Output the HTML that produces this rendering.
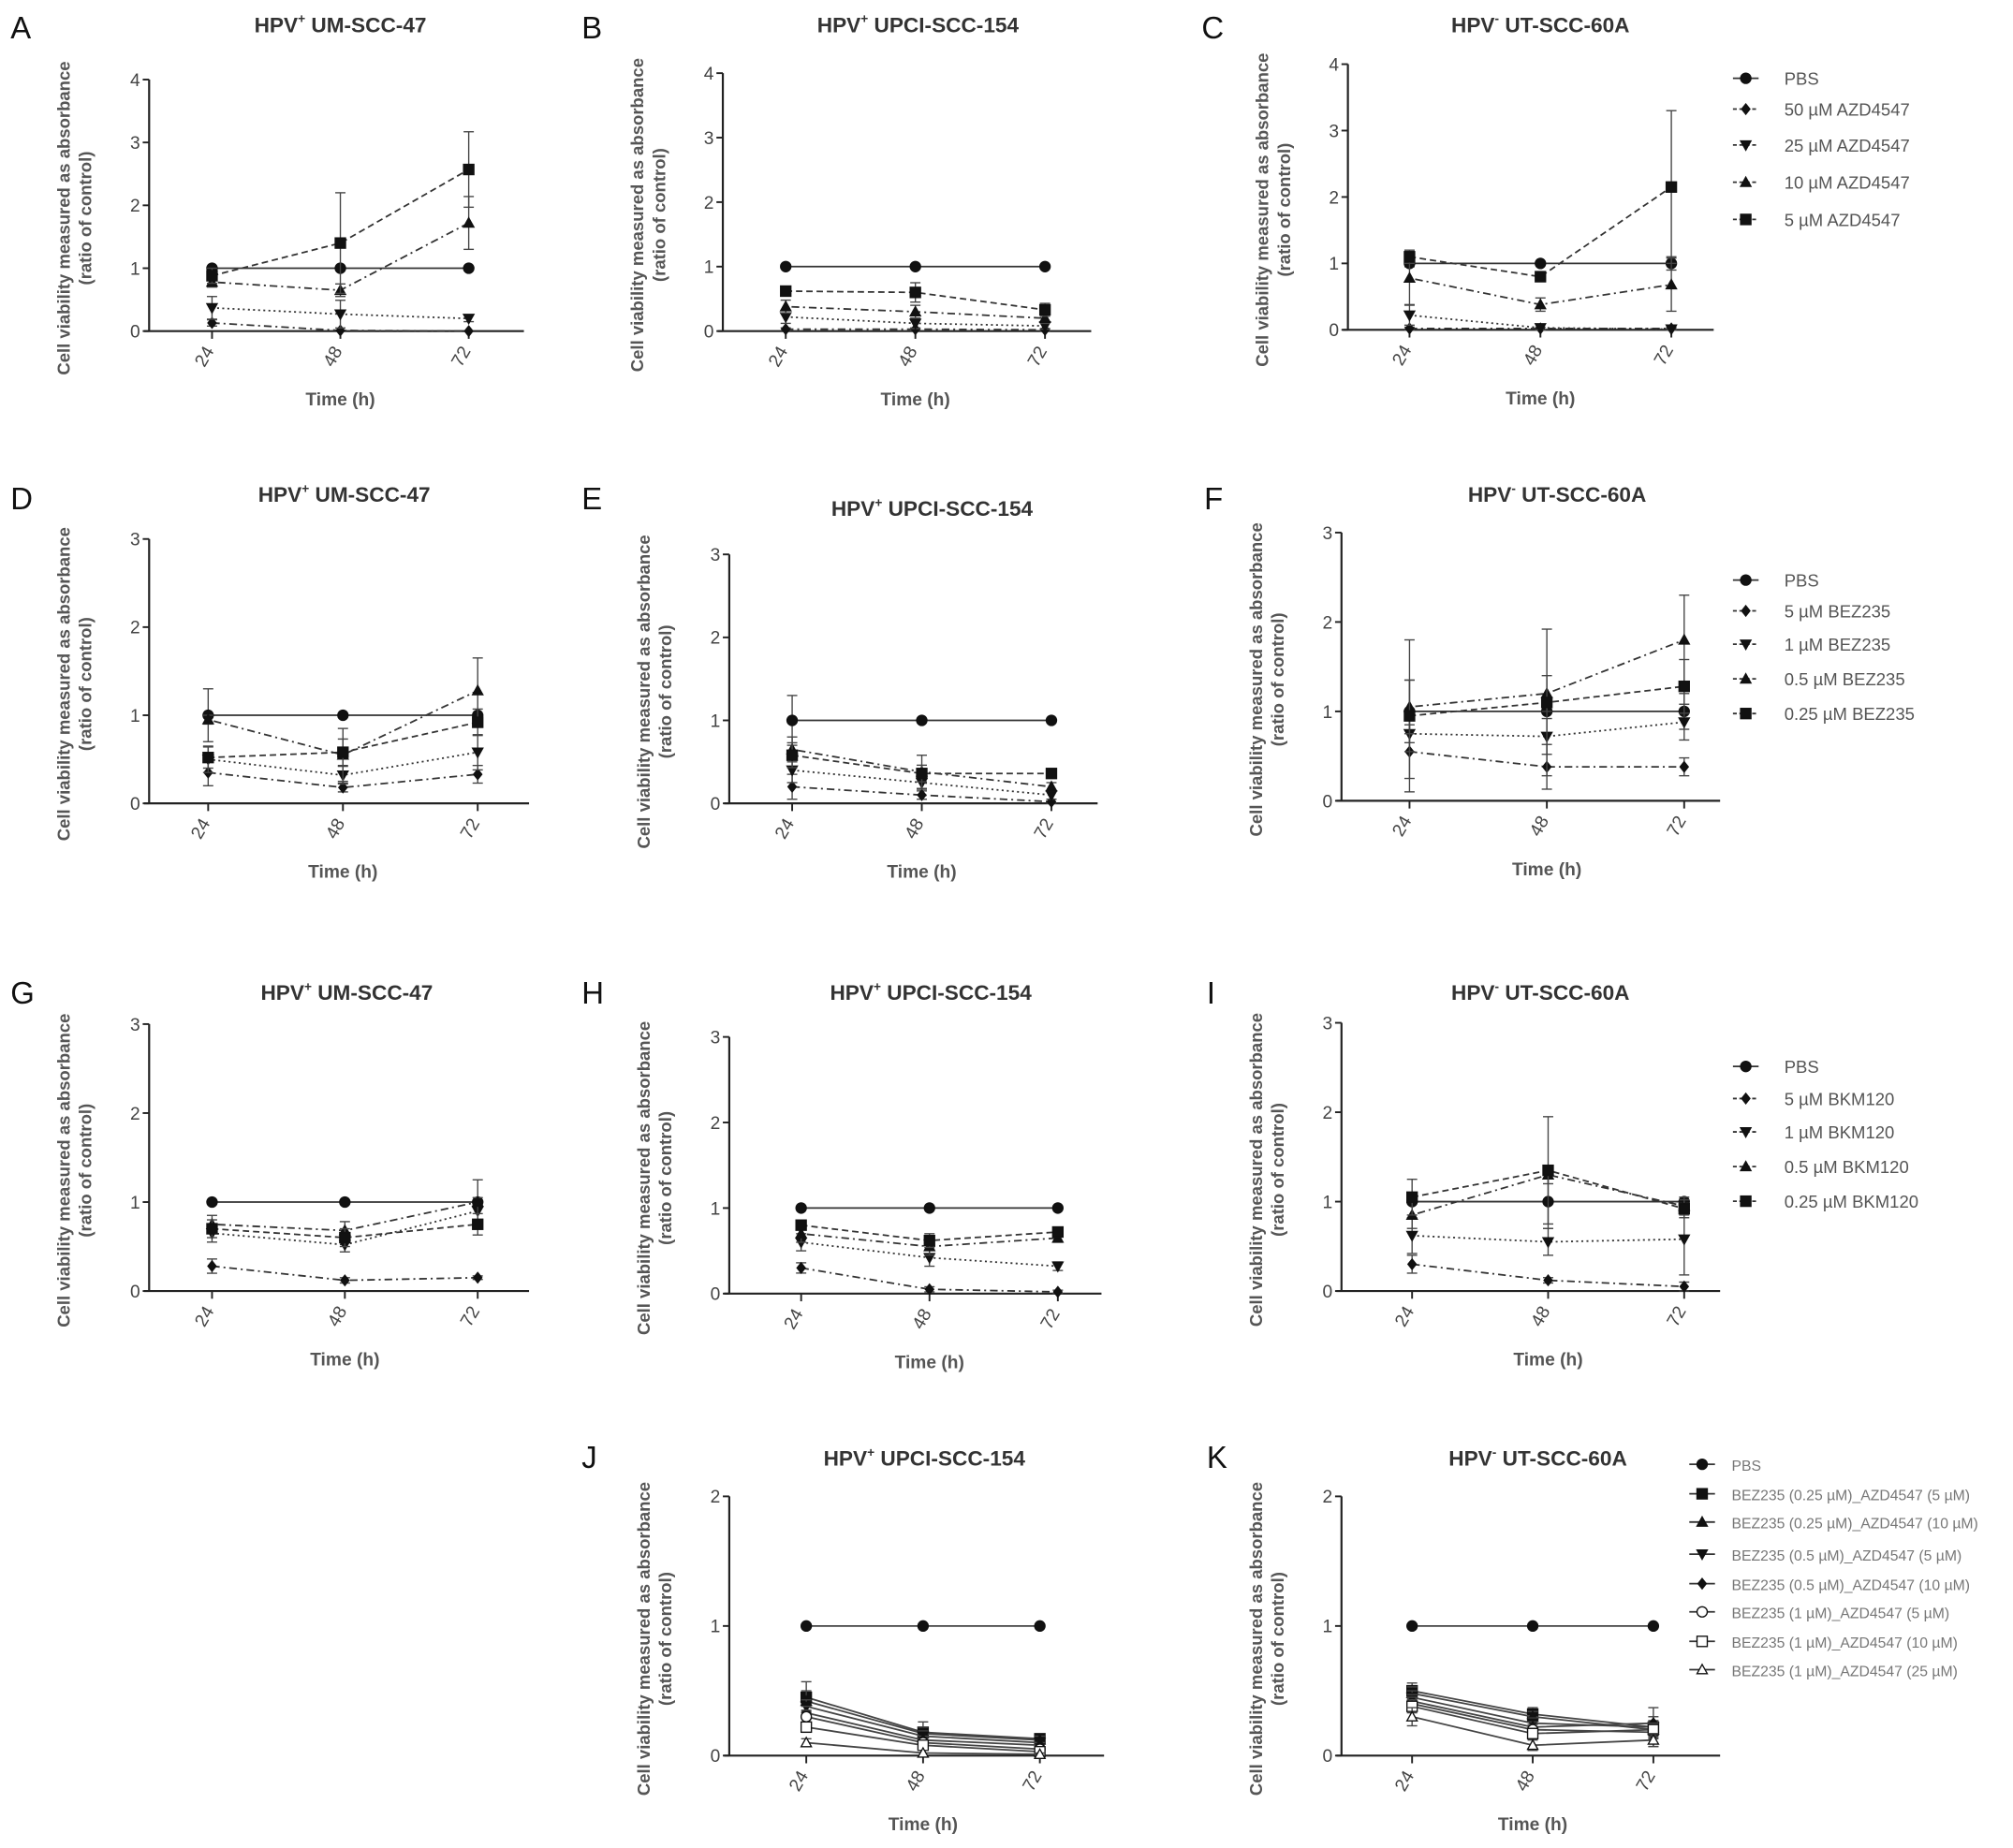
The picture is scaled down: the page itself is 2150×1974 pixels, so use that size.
<!DOCTYPE html>
<html><head><meta charset="utf-8"><style>
html,body{margin:0;padding:0;background:#fff}
svg{display:block;font-family:"Liberation Sans",Arial,sans-serif}
</style></head><body>
<svg id="fig" width="2150" height="1974" viewBox="0 0 1568 1440" xmlns="http://www.w3.org/2000/svg"></svg>
<script>
const times = [24, 48, 72];
// Panel A-C (AZD4547)
const A_series = [[1,1,1],[0.13,0.01,0.0],[0.37,0.27,0.2],[0.78,0.65,1.72],[0.88,1.4,2.57]];
const A_err = [[0.03,0,0],[0.05,0,0],[0.18,0.22,0.05],[0.08,0.1,0.42],[0.12,0.8,0.6]];
const B_series = [[1,1,1],[0.03,0.03,0.02],[0.22,0.12,0.08],[0.38,0.3,0.2],[0.62,0.6,0.33]];
const B_err = [[0,0,0],[0.02,0.02,0.02],[0.1,0.08,0.05],[0.1,0.1,0.08],[0.05,0.15,0.1]];
const C_series = [[1,1,1],[0.02,0.02,0.02],[0.22,0.03,0.01],[0.78,0.38,0.68],[1.1,0.8,2.15]];
const C_err = [[0.05,0,0.1],[0.02,0.02,0.02],[0.15,0.05,0.02],[0.4,0.1,0.4],[0.1,0.05,1.15]];
// Panel D-F (BEZ235)
const D_series = [[1,1,1],[0.35,0.18,0.33],[0.5,0.32,0.58],[0.95,0.55,1.28],[0.52,0.58,0.92]];
const D_err = [[0.3,0,0],[0.15,0.05,0.1],[0.15,0.1,0.2],[0.05,0.3,0.37],[0.12,0.15,0.15]];
const E_series = [[1,1,1],[0.2,0.1,0.02],[0.4,0.25,0.1],[0.65,0.38,0.2],[0.58,0.36,0.36]];
const E_err = [[0.3,0,0],[0.15,0.05,0.03],[0.15,0.08,0.05],[0.15,0.2,0.05],[0.15,0.1,0.03]];
const F_series = [[1,1,1],[0.55,0.38,0.38],[0.75,0.72,0.88],[1.05,1.2,1.8],[0.95,1.1,1.28]];
const F_err = [[0.35,0,0.2],[0.3,0.25,0.1],[0.2,0.2,0.2],[0.3,0.2,0.5],[0.85,0.82,0.3]];
// Panel G-I (BKM120)
const G_series = [[1,1,1],[0.28,0.12,0.15],[0.65,0.52,0.9],[0.75,0.68,1.0],[0.7,0.6,0.75]];
const G_err = [[0,0,0],[0.08,0.03,0.02],[0.1,0.08,0.15],[0.1,0.1,0.25],[0.1,0.1,0.12]];
const H_series = [[1,1,1],[0.3,0.05,0.02],[0.6,0.42,0.32],[0.7,0.55,0.65],[0.8,0.62,0.72]];
const H_err = [[0,0,0],[0.06,0.03,0.02],[0.1,0.1,0.05],[0.1,0.1,0.05],[0.05,0.08,0.05]];
const I_series = [[1,1,1],[0.3,0.12,0.05],[0.62,0.55,0.58],[0.85,1.3,0.95],[1.05,1.35,0.92]];
const I_err = [[0,0.3,0],[0.1,0.03,0.05],[0.2,0.15,0.4],[0.15,0.1,0.1],[0.2,0.6,0.1]];
// Panel J-K (combinations)
const J_series = [[1,1,1],[0.45,0.18,0.13],[0.42,0.17,0.12],[0.38,0.15,0.1],[0.33,0.12,0.08],[0.3,0.1,0.05],[0.22,0.08,0.03],[0.1,0.02,0.01]];
const J_err = [[0,0,0],[0.12,0.08,0.03],[0.08,0.05,0.03],[0.05,0.04,0.03],[0.05,0.03,0.02],[0.05,0.03,0.02],[0.04,0.02,0.02],[0.03,0.02,0.01]];
const K_series = [[1,1,1],[0.5,0.32,0.22],[0.48,0.3,0.2],[0.45,0.25,0.22],[0.42,0.22,0.25],[0.4,0.2,0.18],[0.38,0.17,0.2],[0.3,0.08,0.12]];
const K_err = [[0,0,0],[0.06,0.05,0.15],[0.05,0.04,0.06],[0.05,0.04,0.05],[0.05,0.04,0.05],[0.05,0.04,0.05],[0.05,0.04,0.05],[0.07,0.04,0.05]];
const legAZD = ["PBS","50 µM AZD4547","25 µM AZD4547","10 µM AZD4547","5 µM AZD4547"];
const legBEZ = ["PBS","5 µM BEZ235","1 µM BEZ235","0.5 µM BEZ235","0.25 µM BEZ235"];
const legBKM = ["PBS","5 µM BKM120","1 µM BKM120","0.5 µM BKM120","0.25 µM BKM120"];
const legCOMB = ["PBS","BEZ235 (0.25 µM)_AZD4547 (5 µM)","BEZ235 (0.25 µM)_AZD4547 (10 µM)","BEZ235 (0.5 µM)_AZD4547 (5 µM)","BEZ235 (0.5 µM)_AZD4547 (10 µM)","BEZ235 (1 µM)_AZD4547 (5 µM)","BEZ235 (1 µM)_AZD4547 (10 µM)","BEZ235 (1 µM)_AZD4547 (25 µM)"];

const NS="http://www.w3.org/2000/svg";
const svg=document.getElementById('fig');
function mk(tag,attrs,parent){const e=document.createElementNS(NS,tag);for(const k in attrs)e.setAttribute(k,attrs[k]);(parent||svg).appendChild(e);return e;}
const dashes4=["", "6 3 1.5 3", "1.5 2.5", "1.5 3 6 3", "5 3"];
const markers4=["circle","diamond","down","up","square"];
const markersC=["circle","square","up","down","diamond","ocircle","osquare","oup"];
function marker(g,type,x,y,s){
  const f=type.startsWith('o')?'#fff':'#111';
  const t=type.replace(/^o/,'');
  let e;
  if(t==='circle')e=mk('circle',{cx:x,cy:y,r:s,fill:f,stroke:'#111','stroke-width':1},g);
  else if(t==='square')e=mk('rect',{x:x-s,y:y-s,width:2*s,height:2*s,fill:f,stroke:'#111','stroke-width':1},g);
  else if(t==='diamond')e=mk('polygon',{points:`${x},${y-s} ${x+s*0.8},${y} ${x},${y+s} ${x-s*0.8},${y}`,fill:f,stroke:'#111','stroke-width':1},g);
  else if(t==='up')e=mk('polygon',{points:`${x},${y-s} ${x+s},${y+s*0.8} ${x-s},${y+s*0.8}`,fill:f,stroke:'#111','stroke-width':1},g);
  else e=mk('polygon',{points:`${x},${y+s} ${x+s},${y-s*0.8} ${x-s},${y-s*0.8}`,fill:f,stroke:'#111','stroke-width':1},g);
  
  
}
function panel(p){
  const g=mk('g',{});
  
  
  const yS=v=>p.y0-(p.y0-p.yTop)*v/p.ymax;
  const xS=i=>p.xs[0]+(p.xs[1]-p.xs[0])*i;
  const L=mk('text',{x:p.lx,y:p.ly,'font-size':24,fill:'#111'},g);L.textContent=p.letter;
  
  const T=mk('text',{x:p.tx,y:p.ty,'font-size':16.5,'font-weight':'bold',fill:'#333','text-anchor':'middle'},g);
  
  T.innerHTML=`HPV<tspan dy="-7" font-size="10">${p.sign}</tspan><tspan dy="7"> ${p.cell}</tspan>`;
  const yc=(p.y0+p.yTop)/2+10;
  const Y=mk('text',{x:0,y:0,'font-size':13.5,'font-weight':'bold',fill:'#555','text-anchor':'middle',transform:`translate(${p.ax-62},${yc}) rotate(-90)`},g);
  
  Y.innerHTML=`<tspan x="0" dy="0">Cell viability measured as absorbance</tspan><tspan x="0" dy="17">(ratio of control)</tspan>`;
  const ya=mk('line',{x1:p.ax,y1:p.yTop,x2:p.ax,y2:p.y0,stroke:'#222','stroke-width':1.6},g);
  
  const xa=mk('line',{x1:p.ax-4,y1:p.y0,x2:p.xend,y2:p.y0,stroke:'#222','stroke-width':1.6},g);
  
  for(let v=0;v<=p.ymax;v++){
    mk('line',{x1:p.ax-5,y1:yS(v),x2:p.ax,y2:yS(v),stroke:'#222','stroke-width':1.4},g);
    const t=mk('text',{x:p.ax-7,y:yS(v)+5,'font-size':14,fill:'#444','text-anchor':'end'},g);t.textContent=v;
    
  }
  times.forEach((tm,i)=>{
    const x=xS(i);
    mk('line',{x1:x,y1:p.y0,x2:x,y2:p.y0+6,stroke:'#222','stroke-width':1.4},g);
    const t=mk('text',{x:0,y:0,'font-size':14,fill:'#444','text-anchor':'middle',transform:`translate(${x-2},${p.y0+22}) rotate(-60)`},g);t.textContent=tm;
    
  });
  const X=mk('text',{x:(xS(0)+xS(2))/2,y:p.y0+58,'font-size':14,'font-weight':'bold',fill:'#555','text-anchor':'middle'},g);
  X.textContent='Time (h)';
  p.series.forEach((s,k)=>{
    const pts=s.map((v,i)=>`${xS(i)},${yS(v)}`).join(' ');
    const pl=mk('polyline',{points:pts,fill:'none',stroke:p.combo?'#444':'#333','stroke-width':1.3,'stroke-dasharray':p.combo?'':dashes4[k]},g);
    
    s.forEach((v,i)=>{
      const e=p.err[k][i];
      if(e>0){
        const x=xS(i);
        mk('line',{x1:x,y1:yS(Math.max(0,v-e)),x2:x,y2:yS(v+e),stroke:'#444','stroke-width':1},g);
        mk('line',{x1:x-4,y1:yS(v+e),x2:x+4,y2:yS(v+e),stroke:'#444','stroke-width':1},g);
        mk('line',{x1:x-4,y1:yS(Math.max(0,v-e)),x2:x+4,y2:yS(Math.max(0,v-e)),stroke:'#444','stroke-width':1},g);
      }
      marker(g,(p.combo?markersC:markers4)[k],xS(i),yS(v),4);
    });
  });
  if(p.legend){
    p.legend.forEach((lab,k)=>{
      const y=p.legY[k];
      const lg=mk('g',{},g);
      
      mk('line',{x1:p.legX-10,y1:y,x2:p.legX+10,y2:y,stroke:'#333','stroke-width':1.3,'stroke-dasharray':p.combo?'':(k?'3 2':'')},lg);
      marker(lg,(p.combo?markersC:markers4)[k],p.legX,y,4);
      const t=mk('text',{x:p.legX+(p.combo?23:30),y:y+5,'font-size':p.combo?11.5:13.5,fill:p.combo?'#777':'#555'},lg);t.textContent=lab;
    });
  }
}
const cfg=[
 {letter:'A',lx:8,ly:30,tx:265,ty:25,sign:'+',cell:'UM-SCC-47',ax:116,y0:258,yTop:62,ymax:4,xs:[165,265],xend:408,series:A_series,err:A_err},
 {letter:'B',lx:453,ly:30,tx:715,ty:25,sign:'+',cell:' UPCI-SCC-154',ax:563,y0:258,yTop:57,ymax:4,xs:[612,713],xend:850,series:B_series,err:B_err},
 {letter:'C',lx:936,ly:30,tx:1200,ty:25,sign:'-',cell:' UT-SCC-60A',ax:1050,y0:257,yTop:50,ymax:4,xs:[1098,1200],xend:1335,series:C_series,err:C_err,legend:legAZD,legX:1360,legY:[61,85,113,142,171]},
 {letter:'D',lx:8,ly:397,tx:268,ty:391,sign:'+',cell:' UM-SCC-47',ax:116,y0:626,yTop:420,ymax:3,xs:[162,267],xend:412,series:D_series,err:D_err},
 {letter:'E',lx:453,ly:397,tx:726,ty:402,sign:'+',cell:' UPCI-SCC-154',ax:568,y0:626,yTop:432,ymax:3,xs:[617,718],xend:855,series:E_series,err:E_err},
 {letter:'F',lx:938,ly:397,tx:1213,ty:391,sign:'-',cell:' UT-SCC-60A',ax:1045,y0:624,yTop:415,ymax:3,xs:[1098,1205],xend:1340,series:F_series,err:F_err,legend:legBEZ,legX:1360,legY:[452,476,502,529,556]},
 {letter:'G',lx:8,ly:782,tx:270,ty:779,sign:'+',cell:' UM-SCC-47',ax:116,y0:1006,yTop:798,ymax:3,xs:[165,268.5],xend:412,series:G_series,err:G_err},
 {letter:'H',lx:453,ly:782,tx:725,ty:779,sign:'+',cell:' UPCI-SCC-154',ax:568,y0:1008,yTop:808,ymax:3,xs:[624,724],xend:858,series:H_series,err:H_err},
 {letter:'I',lx:940,ly:782,tx:1200,ty:779,sign:'-',cell:' UT-SCC-60A',ax:1045,y0:1006,yTop:797,ymax:3,xs:[1100,1206],xend:1340,series:I_series,err:I_err,legend:legBKM,legX:1360,legY:[831,856,882,909,936]},
 {letter:'J',lx:453,ly:1144,tx:720,ty:1142,sign:'+',cell:' UPCI-SCC-154',ax:568,y0:1368,yTop:1166,ymax:2,xs:[628,719],xend:860,series:J_series,err:J_err,combo:true},
 {letter:'K',lx:940,ly:1144,tx:1198,ty:1142,sign:'-',cell:' UT-SCC-60A',ax:1045,y0:1368,yTop:1166,ymax:2,xs:[1100,1194],xend:1340,series:K_series,err:K_err,combo:true,legend:legCOMB,legX:1326,legY:[1141,1164,1186,1211,1234,1256,1279,1301]}
];
cfg.forEach(panel);
</script>
</body></html>
